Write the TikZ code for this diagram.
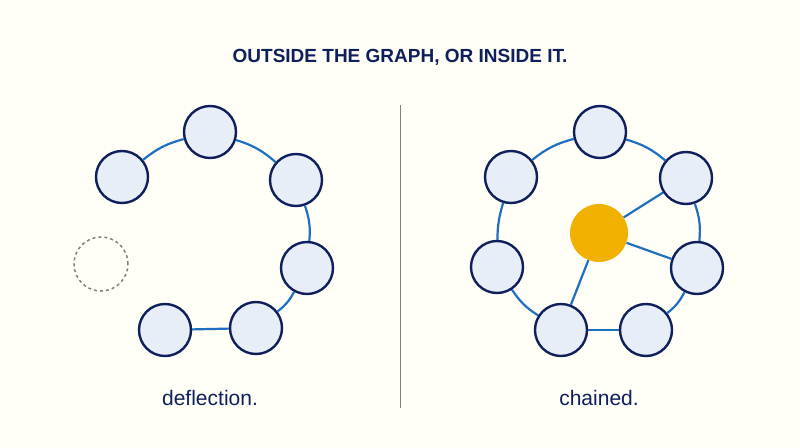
\documentclass[tikz,border=0pt]{standalone}
\usepackage{fontspec}
\setmainfont{Liberation Sans}
\begin{document}
\begin{tikzpicture}[x=1pt,y=-1pt,
 nd/.style={circle,draw=navy,line width=2.4pt,fill=nfill,minimum size=52pt,inner sep=0pt},
 ed/.style={draw=eblue,line width=2.2pt},
 lab/.style={font=\fontsize{21}{24}\selectfont,text=navy}]
\definecolor{navy}{HTML}{0F1F5C}
\definecolor{nfill}{HTML}{E8EEF8}
\definecolor{eblue}{HTML}{1F6FC0}
\definecolor{orng}{HTML}{F2B000}
\fill[white!97!yellow] (0,0) rectangle (800,447);
\useasboundingbox (0,0) rectangle (800,447);
\node[font=\bfseries\fontsize{19}{22}\selectfont,text=navy] (t) at (400,57) {OUTSIDE THE GRAPH, OR INSIDE IT.};
\coordinate (d1) at (400,105); \coordinate (d2) at (400,408);
\draw[gray,line width=1pt] (d1) -- (d2);
% left
\node[nd] (a1) at (122,177) {};
\node[nd] (a2) at (210,132) {};
\node[nd] (a3) at (296,180) {};
\node[nd] (a4) at (307,268) {};
\node[nd] (a5) at (256,328) {};
\node[nd] (a6) at (165,330) {};
\node[circle,draw=gray,dashed,line width=1.5pt,minimum size=54pt] (ag) at (101,264) {};
\begin{scope}[on background layer/.try]
\end{scope}
\draw[ed] (a1) to[bend left=12] (a2);
\draw[ed] (a2) to[bend left=12] (a3);
\draw[ed] (a3) to[bend left=12] (a4);
\draw[ed] (a4) to[bend left=12] (a5);
\draw[ed] (a5) to (a6);
\node[lab] (l1) at (210,398) {deflection.};
% right
\node[nd] (b1) at (511,177) {};
\node[nd] (b2) at (600,132) {};
\node[nd] (b3) at (686,178) {};
\node[nd] (b4) at (697,268) {};
\node[nd] (b5) at (646,330) {};
\node[nd] (b6) at (561,330) {};
\node[nd] (b7) at (497,267) {};
\node[circle,fill=orng,minimum size=58pt,inner sep=0pt] (c) at (599,233) {};
\draw[ed] (b1) to[bend left=12] (b2);
\draw[ed] (b2) to[bend left=12] (b3);
\draw[ed] (b3) to[bend left=12] (b4);
\draw[ed] (b4) to[bend left=12] (b5);
\draw[ed] (b5) to (b6);
\draw[ed] (b6) to[bend left=12] (b7);
\draw[ed] (b7) to[bend left=8] (b1);
\draw[ed] (c) -- (b3);
\draw[ed] (c) -- (b4);
\draw[ed] (c) -- (b6);
\node[lab] (l2) at (599,398) {chained.};
\end{tikzpicture}
\end{document}
